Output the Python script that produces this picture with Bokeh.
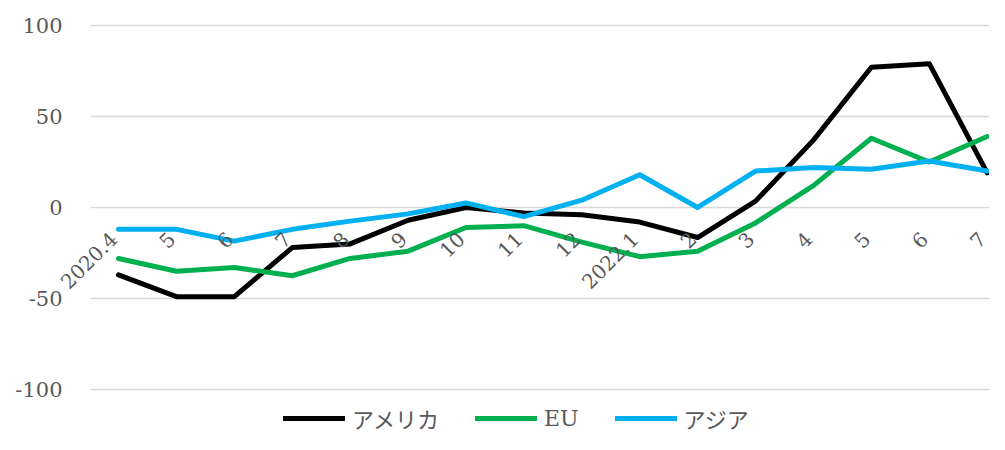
import math
from bokeh.plotting import figure
from bokeh.models import Legend, LegendItem, Range1d, ColumnDataSource
from bokeh.core.properties import value
from bokeh.embed import file_html
from bokeh.resources import INLINE

months = ["2020.4", "5", "6", "7", "8", "9", "10", "11", "12",
          "2022.1", "2", "3", "4", "5", "6", "7"]
america = [-37, -49, -49, -22, -20, -7, 0, -3, -4, -8, -16.5, 3.5, 37, 77, 79, 19]
eu = [-28, -35, -33, -37.5, -28, -24, -11, -10, -19, -27, -24, -8.5, 12, 38, 25, 39]
asia = [-12, -12, -18.5, -12, -7.5, -3.5, 2.5, -5, 4, 18, 0, 20, 22, 21, 25.5, 20]
y_ticks = [-100, -50, 0, 50, 100]
y_tick_labels = ["-100", "-50", "0", "50", "100"]

names = ["アメリカ", "EU", "アジア"]
colors = ["#000000", "#00B050", "#00B0F0"]

FONT = "DejaVu Serif, Noto Sans CJK JP"
GRAY = "#595959"

# layout: plot area spans from half a category left of the first point
AREA_LEFT = -0.484
AREA_RIGHT = 15.04

xs = list(range(len(months)))

p = figure(width=989, height=434, output_backend="svg", toolbar_location=None,
           x_range=Range1d(-2.038, AREA_RIGHT), y_range=Range1d(-124.7, 113.7),
           min_border_left=0, min_border_right=0, min_border_top=0,
           min_border_bottom=0)
p.outline_line_color = None
p.background_fill_color = "white"
p.border_fill_color = "white"
p.xaxis.visible = False
p.yaxis.visible = False
p.xgrid.grid_line_color = None
p.ygrid.grid_line_color = None

# horizontal gridlines across the plot area
grid = ColumnDataSource(dict(x0=[AREA_LEFT] * len(y_ticks), x1=[AREA_RIGHT] * len(y_ticks),
                             y=y_ticks, t=y_tick_labels))
p.segment(x0="x0", x1="x1", y0="y", y1="y", source=grid,
          line_color="#D9D9D9", line_width=1.5)
# value labels
p.text(x="x0", y="y", text="t", source=grid, text_align="right", text_baseline="middle",
       x_offset=-28, text_font=value(FONT), text_font_size="21px", text_color=GRAY)

renderers = []
for ys, c in zip([america, eu, asia], colors):
    r = p.line(xs, ys, line_color=c, line_width=5, line_join="round", line_cap="round")
    renderers.append(r)

# category labels along the zero line
lab = ColumnDataSource(dict(x=xs, y=[0] * len(xs), t=months))
p.text(x="x", y="y", text="t", source=lab, angle=math.pi / 4,
       text_align="right", text_baseline="middle", x_offset=-5, y_offset=28,
       text_font=value(FONT), text_font_size="20px", text_color=GRAY)

legend = Legend(items=[LegendItem(label=n, renderers=[r]) for n, r in zip(names, renderers)],
                orientation="horizontal", location=(283, 0),
                label_text_font=FONT, label_text_font_size="22px",
                label_text_color=GRAY, glyph_width=62, glyph_height=22,
                spacing=36, label_standoff=7, padding=0, margin=0,
                border_line_color=None, background_fill_alpha=0)
p.add_layout(legend)

open("out.html", "w").write(file_html(p, INLINE))
